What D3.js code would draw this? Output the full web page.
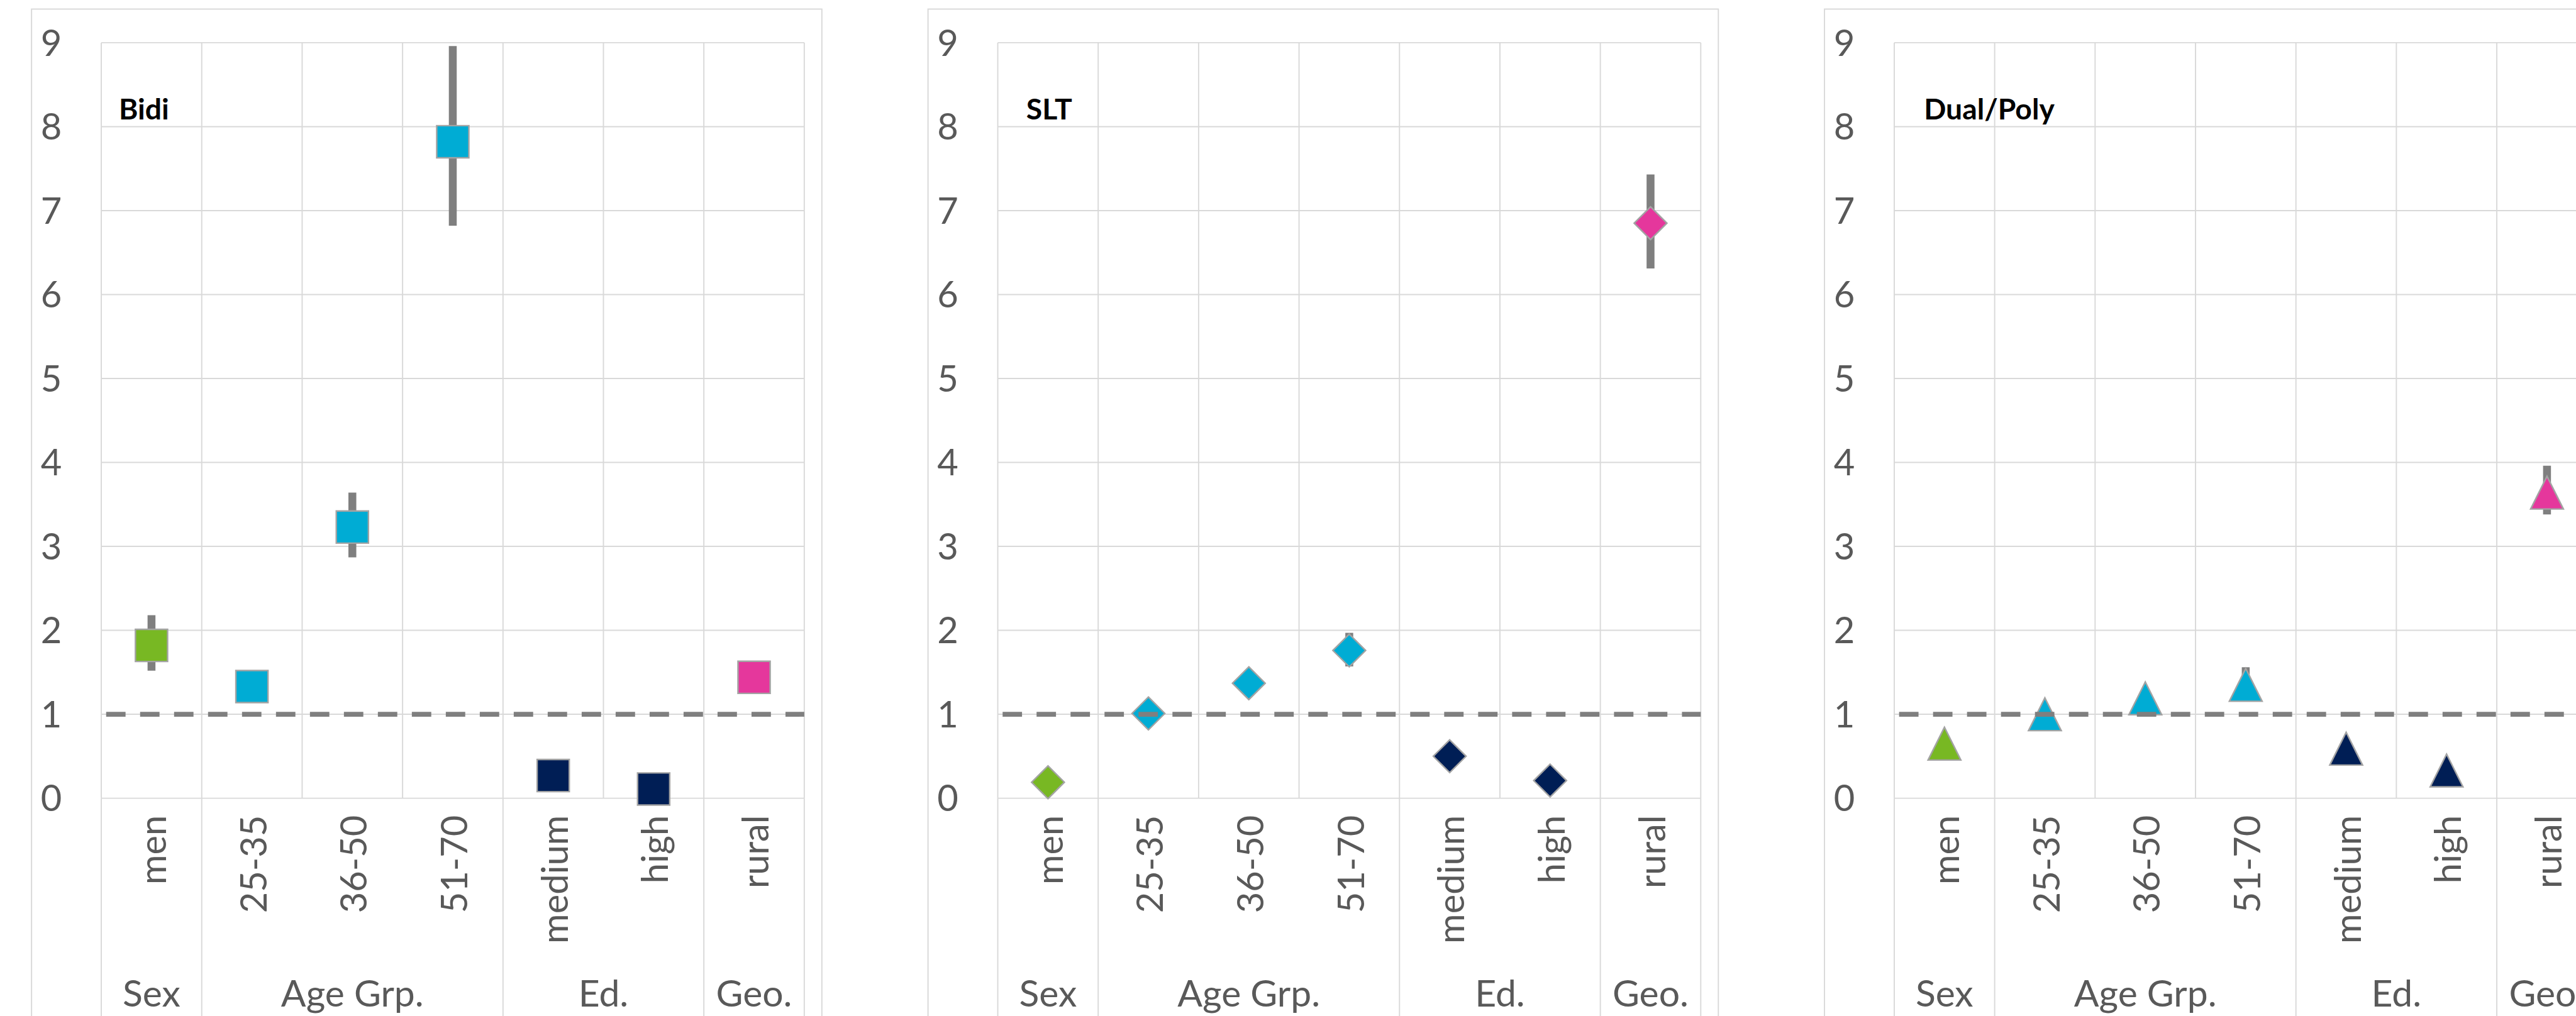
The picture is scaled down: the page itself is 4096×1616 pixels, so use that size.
<!DOCTYPE html>
<html>
<head>
<meta charset="utf-8">
<script src="https://cdn.jsdelivr.net/npm/d3@7"></script>
<style>
  html, body { margin: 0; padding: 0; background: #ffffff; overflow: hidden; }
  svg { display: block; }
</style>
</head>
<body>
<svg id="chart" width="4096" height="1616"></svg>
<script>
// ---- data -------------------------------------------------------------
const categories = ["men", "25-35", "36-50", "51-70", "medium", "high", "rural"];
const groupLabels = ["Sex", "Age Grp.", "Ed.", "Geo."];
const groupSizes = [1, 3, 2, 1];
const yTicks = [0, 1, 2, 3, 4, 5, 6, 7, 8, 9];
const referenceLevel = 1;

const panelTitles = ["Bidi", "SLT", "Dual/Poly"];

const bidiValues = [1.82, 1.33, 3.23, 7.82, 0.27, 0.11, 1.44];
const bidiLow    = [1.52, null, 2.87, 6.82, null, null, null];
const bidiHigh   = [2.18, null, 3.64, 8.96, null, null, null];

const sltValues  = [0.19, 1.01, 1.37, 1.76, 0.50, 0.21, 6.85];
const sltLow     = [null, null, null, 1.57, null, null, 6.31];
const sltHigh    = [null, null, null, 1.97, null, null, 7.43];

const dualValues = [0.65, 1.00, 1.19, 1.35, 0.59, 0.33, 3.64];
const dualLow    = [null, null, null, 1.20, null, null, 3.38];
const dualHigh   = [null, null, null, 1.56, null, null, 3.96];

// ---- styling & layout (drawn in a 4247-wide frame, then scaled) ------
const S = 4096 / 4247;
const FONT = "Lato, 'Noto Sans', 'DejaVu Sans', sans-serif";
const groupColors = ["#78b823", "#00acd4", "#001e55", "#e5379c"];
const gridColor = "#d9d9d9";
const textColor = "#595959";
const barColor = "#7f7f7f";
const markerEdge = "#a3a3a3";

const panelStep = 1478;
const frame = { left: 52, top: 15, width: 1303, height: 1800 };
const plot = { left: 167, width: 1159, top: 70.4, bottom: 1316.4 };
const titleDx = [29, 47, 49];
const titleBaseline = 197;
const catLabelGap = 28;
const groupBaseline = 1660;

// marker shapes, sized by the square of their full extent
const squareType = { draw(ctx, size) { const h = Math.sqrt(size) / 2; ctx.rect(-h, -h, 2 * h, 2 * h); } };
const diamondType = { draw(ctx, size) { const h = Math.sqrt(size) / 2;
  ctx.moveTo(0, -h); ctx.lineTo(h, 0); ctx.lineTo(0, h); ctx.lineTo(-h, 0); ctx.closePath(); } };
const triangleType = { draw(ctx, size) { const h = Math.sqrt(size) / 2;
  ctx.moveTo(0, -h); ctx.lineTo(h, h); ctx.lineTo(-h, h); ctx.closePath(); } };

const panels = [
  { title: panelTitles[0], values: bidiValues, low: bidiLow, high: bidiHigh, shape: squareType, size: 53 * 53 },
  { title: panelTitles[1], values: sltValues,  low: sltLow,  high: sltHigh,  shape: diamondType, size: 54 * 54 },
  { title: panelTitles[2], values: dualValues, low: dualLow, high: dualHigh, shape: triangleType, size: 54 * 54 }
];

// category -> group index
const catGroup = [];
groupSizes.forEach((n, g) => { for (let k = 0; k < n; k++) catGroup.push(g); });
// band edges where a group begins or ends
const groupEdges = [0];
groupSizes.forEach(n => groupEdges.push(groupEdges[groupEdges.length - 1] + n));

const svg = d3.select("#chart");
svg.append("rect").attr("width", 4096).attr("height", 1616).attr("fill", "#ffffff");
const root = svg.append("g").attr("transform", `scale(${S})`);

const y = d3.scaleLinear().domain([0, 9]).range([plot.bottom, plot.top]);

panels.forEach((p, pi) => {
  const ox = pi * panelStep;
  const g = root.append("g");
  const x = d3.scaleBand().domain(categories)
    .range([plot.left + ox, plot.left + ox + plot.width]).padding(0);
  const bw = x.bandwidth();
  const x0 = x.range()[0], x1 = x.range()[1];
  const edgeX = i => x0 + i * bw;

  // chart frame
  g.append("rect")
    .attr("x", frame.left + ox).attr("y", frame.top)
    .attr("width", frame.width).attr("height", frame.height)
    .attr("fill", "#ffffff").attr("stroke", gridColor).attr("stroke-width", 2);

  // horizontal gridlines
  g.append("g").selectAll("line").data(yTicks).join("line")
    .attr("x1", x0).attr("x2", x1)
    .attr("y1", d => y(d)).attr("y2", d => y(d))
    .attr("stroke", gridColor).attr("stroke-width", 2);

  // vertical gridlines inside the plot
  g.append("g").selectAll("line").data(d3.range(categories.length + 1)).join("line")
    .attr("x1", edgeX).attr("x2", edgeX)
    .attr("y1", y(9)).attr("y2", y(0))
    .attr("stroke", gridColor).attr("stroke-width", 2);

  // group separators below the axis
  g.append("g").selectAll("line").data(groupEdges).join("line")
    .attr("x1", edgeX).attr("x2", edgeX)
    .attr("y1", y(0)).attr("y2", frame.top + frame.height)
    .attr("stroke", gridColor).attr("stroke-width", 2);

  // y tick labels
  g.append("g").selectAll("text").data(yTicks).join("text")
    .attr("x", x0 - 65).attr("y", d => y(d)).attr("dy", "0.36em")
    .attr("text-anchor", "end")
    .attr("font-family", FONT).attr("font-size", 60).attr("fill", textColor)
    .text(d => d);

  // rotated category labels
  g.append("g").selectAll("text").data(categories).join("text")
    .attr("transform", d => `translate(${x(d) + bw / 2},${y(0) + catLabelGap}) rotate(-90)`)
    .attr("dy", "0.40em")
    .attr("text-anchor", "end")
    .attr("font-family", FONT).attr("font-size", 60).attr("fill", textColor)
    .text(d => d);

  // group labels
  g.append("g").selectAll("text").data(groupLabels).join("text")
    .attr("x", (d, i) => (edgeX(groupEdges[i]) + edgeX(groupEdges[i + 1])) / 2)
    .attr("y", groupBaseline)
    .attr("text-anchor", "middle")
    .attr("font-family", FONT).attr("font-size", 61).attr("fill", textColor)
    .text(d => d);

  // panel title
  g.append("text")
    .attr("x", x0 + titleDx[pi]).attr("y", titleBaseline)
    .attr("font-family", FONT).attr("font-size", 48).attr("font-weight", 700)
    .attr("fill", "#000000")
    .text(p.title);

  const rows = categories.map((c, i) => ({ c, v: p.values[i], lo: p.low[i], hi: p.high[i], grp: catGroup[i] }));

  // confidence intervals
  g.append("g").selectAll("line").data(rows.filter(r => r.lo != null || r.hi != null)).join("line")
    .attr("x1", r => x(r.c) + bw / 2).attr("x2", r => x(r.c) + bw / 2)
    .attr("y1", r => y(r.lo != null ? r.lo : r.v))
    .attr("y2", r => y(r.hi != null ? r.hi : r.v))
    .attr("stroke", barColor).attr("stroke-width", 13);

  // point estimates
  const sym = d3.symbol().type(p.shape).size(p.size);
  g.append("g").selectAll("path").data(rows).join("path")
    .attr("transform", r => `translate(${x(r.c) + bw / 2},${y(r.v)})`)
    .attr("d", sym)
    .attr("fill", r => groupColors[r.grp])
    .attr("stroke", markerEdge).attr("stroke-width", 2.5);

  // reference line at 1
  g.append("line")
    .attr("x1", x0).attr("x2", x1)
    .attr("y1", y(referenceLevel)).attr("y2", y(referenceLevel))
    .attr("stroke", barColor).attr("stroke-width", 8)
    .attr("stroke-dasharray", "32 24").attr("stroke-dashoffset", 48);
});
</script>
</body>
</html>
